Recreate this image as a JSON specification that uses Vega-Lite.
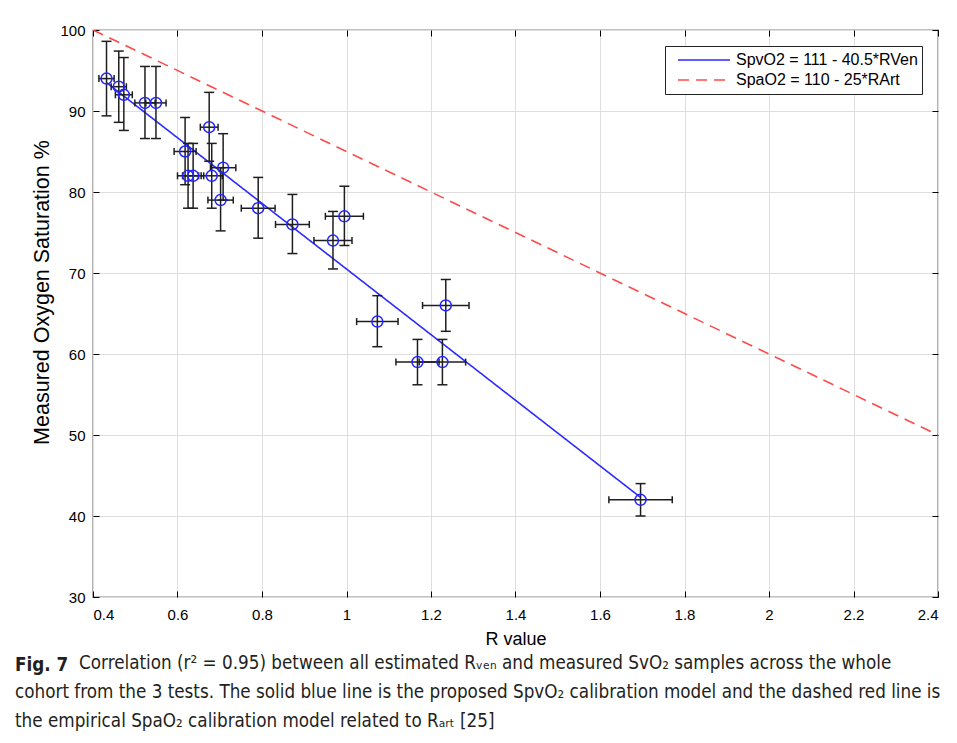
{
  "$schema": "https://vega.github.io/schema/vega-lite/v6.json",
  "width": 845,
  "height": 567,
  "padding": {"left": 93, "top": 30, "right": 19, "bottom": 146},
  "autosize": {"type": "none"},
  "background": "white",
  "config": {
    "view": {"stroke": "#000", "strokeWidth": 1.2},
    "font": "Liberation Sans",
    "axis": {
      "domain": false,
      "gridColor": "#dedede",
      "gridWidth": 1,
      "tickColor": "#000",
      "tickSize": -6,
      "labelFont": "Liberation Sans",
      "labelFontSize": 15,
      "labelColor": "#000",
      "titleFont": "Liberation Sans",
      "titleFontSize": 18,
      "titleFontWeight": "normal",
      "titleColor": "#000"
    },
    "legend": {
      "symbolType": "stroke",
      "symbolSize": 2704,
      "symbolStrokeWidth": 1.5,
      "symbolOffset": 8,
      "clipHeight": 20,
      "labelFont": "Liberation Sans",
      "labelFontSize": 16,
      "labelColor": "#000",
      "labelOffset": 5,
      "labelLimit": 400,
      "rowPadding": 0,
      "padding": 4,
      "strokeColor": "#222",
      "fillColor": "white",
      "orient": "top-right",
      "offset": 16
    }
  },
  "title": {
    "text": "Fig. 7",
    "subtitle": [
      "\u200b\u00a0\u00a0\u00a0\u00a0\u00a0\u00a0\u00a0\u00a0\u00a0\u00a0\u00a0\u00a0Correlation (r² = 0.95) between all estimated Rᵥₑₙ and measured SvO₂ samples across the whole",
      "cohort from the 3 tests. The solid blue line is the proposed SpvO₂ calibration model and the dashed red line is",
      "the empirical SpaO₂ calibration model related to Rₐᵣₜ [25]"
    ],
    "orient": "bottom",
    "anchor": "start",
    "frame": "group",
    "dx": -78,
    "offset": 8,
    "font": "Liberation Sans Narrow, DejaVu Sans Condensed",
    "fontSize": 18.7,
    "fontWeight": "bold",
    "color": "#231f20",
    "subtitleFont": "Liberation Sans Narrow, DejaVu Sans Condensed",
    "subtitleFontSize": 18.7,
    "subtitleColor": "#231f20",
    "subtitleLineHeight": 29,
    "subtitlePadding": -21
  },
  "datasets": {
    "pts": [
      {"R": 0.432, "S": 94.0, "Slo": 89.4, "Shi": 98.6, "Rlo": 0.414, "Rhi": 0.450},
      {"R": 0.461, "S": 93.0, "Slo": 88.6, "Shi": 97.4, "Rlo": 0.443, "Rhi": 0.479},
      {"R": 0.473, "S": 92.0, "Slo": 87.6, "Shi": 96.6, "Rlo": 0.453, "Rhi": 0.493},
      {"R": 0.523, "S": 91.0, "Slo": 86.6, "Shi": 95.5, "Rlo": 0.499, "Rhi": 0.547},
      {"R": 0.549, "S": 91.0, "Slo": 86.6, "Shi": 95.5, "Rlo": 0.525, "Rhi": 0.573},
      {"R": 0.618, "S": 85.0, "Slo": 80.9, "Shi": 89.2, "Rlo": 0.592, "Rhi": 0.644},
      {"R": 0.625, "S": 82.0, "Slo": 78.0, "Shi": 86.0, "Rlo": 0.600, "Rhi": 0.650},
      {"R": 0.637, "S": 82.0, "Slo": 78.0, "Shi": 86.0, "Rlo": 0.612, "Rhi": 0.662},
      {"R": 0.675, "S": 88.0, "Slo": 83.8, "Shi": 92.3, "Rlo": 0.654, "Rhi": 0.696},
      {"R": 0.681, "S": 82.0, "Slo": 78.0, "Shi": 86.0, "Rlo": 0.656, "Rhi": 0.706},
      {"R": 0.708, "S": 83.0, "Slo": 79.0, "Shi": 87.2, "Rlo": 0.678, "Rhi": 0.738},
      {"R": 0.702, "S": 79.0, "Slo": 75.2, "Shi": 83.0, "Rlo": 0.672, "Rhi": 0.732},
      {"R": 0.791, "S": 78.0, "Slo": 74.3, "Shi": 81.8, "Rlo": 0.751, "Rhi": 0.831},
      {"R": 0.872, "S": 76.0, "Slo": 72.4, "Shi": 79.7, "Rlo": 0.832, "Rhi": 0.912},
      {"R": 0.968, "S": 74.0, "Slo": 70.5, "Shi": 77.6, "Rlo": 0.923, "Rhi": 1.013},
      {"R": 0.995, "S": 77.0, "Slo": 73.4, "Shi": 80.7, "Rlo": 0.950, "Rhi": 1.040},
      {"R": 1.073, "S": 64.0, "Slo": 60.9, "Shi": 67.2, "Rlo": 1.024, "Rhi": 1.122},
      {"R": 1.168, "S": 59.0, "Slo": 56.2, "Shi": 61.8, "Rlo": 1.117, "Rhi": 1.219},
      {"R": 1.227, "S": 59.0, "Slo": 56.2, "Shi": 61.8, "Rlo": 1.172, "Rhi": 1.282},
      {"R": 1.235, "S": 66.0, "Slo": 62.8, "Shi": 69.2, "Rlo": 1.180, "Rhi": 1.290},
      {"R": 1.696, "S": 42.0, "Slo": 40.0, "Shi": 44.0, "Rlo": 1.621, "Rhi": 1.771}
    ],
    "fits": [
      {"model": "SpvO2 = 111 - 40.5*RVen", "R": 0.432, "S": 93.5},
      {"model": "SpvO2 = 111 - 40.5*RVen", "R": 1.696, "S": 42.3},
      {"model": "SpaO2 = 110 - 25*RArt", "R": 0.4, "S": 100},
      {"model": "SpaO2 = 110 - 25*RArt", "R": 2.4, "S": 50}
    ]
  },
  "resolve": {"axis": {"x": "independent", "y": "independent"}},
  "layer": [
    {
      "data": {"name": "fits"},
      "mark": {"type": "line", "strokeWidth": 1.6, "clip": true},
      "encoding": {
        "x": {
          "field": "R", "type": "quantitative",
          "scale": {"domain": [0.4, 2.4], "nice": false, "zero": false},
          "axis": {"orient": "bottom", "title": "R value", "values": [0.4, 0.6, 0.8, 1, 1.2, 1.4, 1.6, 1.8, 2, 2.2, 2.4], "format": "~g", "labelPadding": 16, "titlePadding": 8}
        },
        "y": {
          "field": "S", "type": "quantitative",
          "scale": {"domain": [30, 100], "nice": false, "zero": false},
          "axis": {"orient": "left", "title": "Measured Oxygen Saturation %", "titleFontSize": 21.5, "titleY": 262, "values": [30, 40, 50, 60, 70, 80, 90, 100], "labelPadding": 14, "titlePadding": 6}
        },
        "color": {
          "field": "model", "type": "nominal",
          "scale": {"domain": ["SpvO2 = 111 - 40.5*RVen", "SpaO2 = 110 - 25*RArt"], "range": ["#2b2bff", "#ff4a4a"]},
          "legend": {"title": null}
        },
        "strokeDash": {
          "field": "model", "type": "nominal",
          "scale": {"domain": ["SpvO2 = 111 - 40.5*RVen", "SpaO2 = 110 - 25*RArt"], "range": [[1, 0], [11, 7]]},
          "legend": {"title": null}
        }
      }
    },
    {
      "data": {"name": "pts"},
      "mark": {"type": "rule", "color": "#1e1e1e", "strokeWidth": 1.5},
      "encoding": {
        "x": {"field": "R", "type": "quantitative", "axis": null},
        "y": {"field": "Slo", "type": "quantitative", "axis": null},
        "y2": {"field": "Shi"}
      }
    },
    {
      "data": {"name": "pts"},
      "mark": {"type": "rule", "color": "#1e1e1e", "strokeWidth": 1.5},
      "encoding": {
        "x": {"field": "Rlo", "type": "quantitative", "axis": null},
        "x2": {"field": "Rhi"},
        "y": {"field": "S", "type": "quantitative", "axis": null}
      }
    },
    {
      "data": {"name": "pts"},
      "mark": {"type": "tick", "orient": "horizontal", "size": 10, "thickness": 1.5, "color": "#1e1e1e", "opacity": 1},
      "encoding": {
        "x": {"field": "R", "type": "quantitative", "axis": null},
        "y": {"field": "Slo", "type": "quantitative", "axis": null}
      }
    },
    {
      "data": {"name": "pts"},
      "mark": {"type": "tick", "orient": "horizontal", "size": 10, "thickness": 1.5, "color": "#1e1e1e", "opacity": 1},
      "encoding": {
        "x": {"field": "R", "type": "quantitative", "axis": null},
        "y": {"field": "Shi", "type": "quantitative", "axis": null}
      }
    },
    {
      "data": {"name": "pts"},
      "mark": {"type": "tick", "orient": "vertical", "size": 7, "thickness": 1.5, "color": "#1e1e1e", "opacity": 1},
      "encoding": {
        "x": {"field": "Rlo", "type": "quantitative", "axis": null},
        "y": {"field": "S", "type": "quantitative", "axis": null}
      }
    },
    {
      "data": {"name": "pts"},
      "mark": {"type": "tick", "orient": "vertical", "size": 7, "thickness": 1.5, "color": "#1e1e1e", "opacity": 1},
      "encoding": {
        "x": {"field": "Rhi", "type": "quantitative", "axis": null},
        "y": {"field": "S", "type": "quantitative", "axis": null}
      }
    },
    {
      "data": {"name": "pts"},
      "mark": {"type": "point", "shape": "circle", "size": 121, "filled": false, "color": "#2323ff", "strokeWidth": 1.5, "opacity": 1},
      "encoding": {
        "x": {
          "field": "R", "type": "quantitative",
          "axis": {"orient": "top", "title": null, "labels": false, "grid": false, "values": [0.4, 0.6, 0.8, 1, 1.2, 1.4, 1.6, 1.8, 2, 2.2, 2.4]}
        },
        "y": {
          "field": "S", "type": "quantitative",
          "axis": {"orient": "right", "title": null, "labels": false, "grid": false, "values": [30, 40, 50, 60, 70, 80, 90, 100]}
        }
      }
    }
  ]
}
